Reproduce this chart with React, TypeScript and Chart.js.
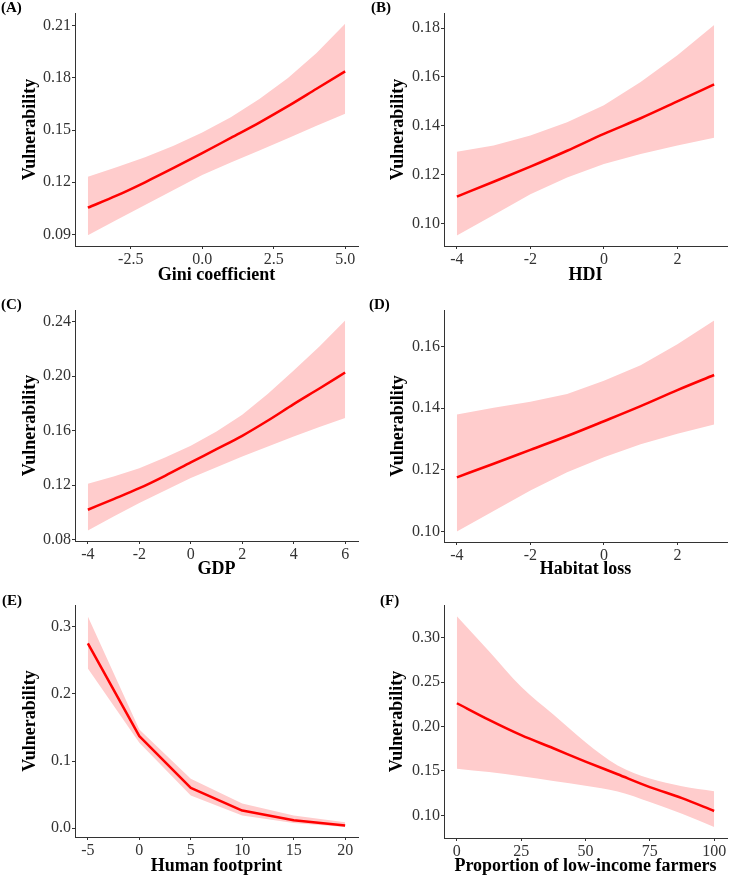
import { useEffect, useRef } from "react";
import { Chart, registerables } from "chart.js";

Chart.register(...registerables);

// (A) Gini coefficient
const giniX = [-4, -3, -2, -1, 0, 1, 2, 3, 4, 5];
const giniFit = [0.1054, 0.1123, 0.12, 0.1282, 0.1367, 0.1455, 0.1543, 0.1637, 0.1737, 0.1837];
const giniUpper = [0.1232, 0.1286, 0.1344, 0.1409, 0.1486, 0.1574, 0.1678, 0.1799, 0.1943, 0.211];
const giniLower = [0.0896, 0.0983, 0.1069, 0.1155, 0.1242, 0.1313, 0.1382, 0.1453, 0.1524, 0.1593];
const giniXTicks = [-2.5, 0, 2.5, 5];
const giniYTicks = [0.09, 0.12, 0.15, 0.18, 0.21];

// (B) HDI
const hdiX = [-4, -3, -2, -1, 0, 1, 2, 3];
const hdiFit = [0.111, 0.1171, 0.1233, 0.1298, 0.1367, 0.1431, 0.15, 0.157];
const hdiUpper = [0.1294, 0.1319, 0.136, 0.1415, 0.1484, 0.1579, 0.1689, 0.1813];
const hdiLower = [0.0951, 0.1035, 0.112, 0.1188, 0.1244, 0.1285, 0.1319, 0.1351];
const hdiXTicks = [-4, -2, 0, 2];
const hdiYTicks = [0.1, 0.12, 0.14, 0.16, 0.18];

// (C) GDP
const gdpX = [-4, -3, -2, -1, 0, 1, 2, 3, 4, 5, 6];
const gdpFit = [0.102, 0.1098, 0.1178, 0.1269, 0.1367, 0.1464, 0.1562, 0.1674, 0.1794, 0.1909, 0.2026];
const gdpUpper = [0.121, 0.1264, 0.1325, 0.1403, 0.1489, 0.1594, 0.1716, 0.187, 0.2041, 0.2217, 0.2407];
const gdpLower = [0.0868, 0.0971, 0.1069, 0.1161, 0.1252, 0.1332, 0.1411, 0.1484, 0.1557, 0.1626, 0.1692];
const gdpXTicks = [-4, -2, 0, 2, 4, 6];
const gdpYTicks = [0.08, 0.12, 0.16, 0.2, 0.24];

// (D) Habitat loss
const habitatX = [-4, -3, -2, -1, 0, 1, 2, 3];
const habitatFit = [0.1176, 0.122, 0.1265, 0.131, 0.1358, 0.1407, 0.1459, 0.1508];
const habitatUpper = [0.138, 0.1402, 0.1421, 0.1446, 0.1489, 0.154, 0.1608, 0.1685];
const habitatLower = [0.1, 0.1067, 0.1133, 0.1192, 0.1241, 0.1283, 0.1317, 0.1347];
const habitatXTicks = [-4, -2, 0, 2];
const habitatYTicks = [0.1, 0.12, 0.14, 0.16];

// (E) Human footprint
const footprintX = [-5, 0, 5, 10, 15, 20];
const footprintFit = [0.275, 0.137, 0.06, 0.0263, 0.0119, 0.004];
const footprintUpper = [0.315, 0.147, 0.0735, 0.0368, 0.0189, 0.0089];
const footprintLower = [0.2374, 0.1272, 0.0487, 0.0189, 0.008, 0.002];
const footprintXTicks = [-5, 0, 5, 10, 15, 20];
const footprintYTicks = [0, 0.1, 0.2, 0.3];

// (F) Proportion of low-income farmers
const farmersX = [0, 12.5, 25, 37.5, 50, 62.5, 75, 87.5, 100];
const farmersFit = [0.2263, 0.2075, 0.1903, 0.1756, 0.1606, 0.1463, 0.1319, 0.1194, 0.1049];
const farmersUpper = [0.3244, 0.285, 0.2448, 0.2135, 0.1824, 0.1561, 0.1414, 0.1327, 0.1271];
const farmersLower = [0.1526, 0.1488, 0.144, 0.1387, 0.1333, 0.1268, 0.115, 0.1019, 0.0868];
const farmersXTicks = [0, 25, 50, 75, 100];
const farmersYTicks = [0.1, 0.15, 0.2, 0.25, 0.3];

const SERIF = '"Liberation Serif", "Times New Roman", Times, serif';
const LINE_RED = "#FF0000";
const BAND_PINK = "#FFCCCC";
const AXIS_GREY = "#333333";

type PanelSpec = {
  tag: string;
  xTitle: string;
  xs: number[];
  fit: number[];
  upper: number[];
  lower: number[];
  xTicks: number[];
  yTicks: number[];
  xDigits: number;
  yDigits: number;
  xRange: [number, number];
  yRange: [number, number];
  smoothFit: boolean;
  smoothBand: boolean;
  // canvas box on the page
  box: { left: number; top: number; width: number; height: number };
  // plot area inside the canvas
  area: { left: number; top: number; right: number; bottom: number };
  tagPos: [number, number];
  yTitleX: number;
};

const panels: PanelSpec[] = [
  {
    tag: "(A)", xTitle: "Gini coefficient",
    xs: giniX, fit: giniFit, upper: giniUpper, lower: giniLower,
    xTicks: giniXTicks, yTicks: giniYTicks, xDigits: 1, yDigits: 2,
    xRange: [-4.45, 5.45], yRange: [0.0834, 0.2172],
    smoothFit: true, smoothBand: false,
    box: { left: 0, top: 0, width: 364, height: 290 },
    area: { left: 75, top: 13, right: 358, bottom: 246 },
    tagPos: [1, 8.5], yTitleX: 30,
  },
  {
    tag: "(B)", xTitle: "HDI",
    xs: hdiX, fit: hdiFit, upper: hdiUpper, lower: hdiLower,
    xTicks: hdiXTicks, yTicks: hdiYTicks, xDigits: 0, yDigits: 2,
    xRange: [-4.35, 3.35], yRange: [0.0908, 0.1862],
    smoothFit: true, smoothBand: false,
    box: { left: 364, top: 0, width: 365, height: 290 },
    area: { left: 80, top: 13, right: 363, bottom: 246 },
    tagPos: [7, 8.5], yTitleX: 34,
  },
  {
    tag: "(C)", xTitle: "GDP",
    xs: gdpX, fit: gdpFit, upper: gdpUpper, lower: gdpLower,
    xTicks: gdpXTicks, yTicks: gdpYTicks, xDigits: 0, yDigits: 2,
    xRange: [-4.5, 6.5], yRange: [0.0791, 0.2484],
    smoothFit: true, smoothBand: false,
    box: { left: 0, top: 290, width: 364, height: 290 },
    area: { left: 75, top: 20, right: 358, bottom: 251 },
    tagPos: [1, 15], yTitleX: 30,
  },
  {
    tag: "(D)", xTitle: "Habitat loss",
    xs: habitatX, fit: habitatFit, upper: habitatUpper, lower: habitatLower,
    xTicks: habitatXTicks, yTicks: habitatYTicks, xDigits: 0, yDigits: 2,
    xRange: [-4.35, 3.35], yRange: [0.0966, 0.1719],
    smoothFit: true, smoothBand: false,
    box: { left: 364, top: 290, width: 365, height: 290 },
    area: { left: 80, top: 20, right: 363, bottom: 252 },
    tagPos: [5, 15.5], yTitleX: 34,
  },
  {
    tag: "(E)", xTitle: "Human footprint",
    xs: footprintX, fit: footprintFit, upper: footprintUpper, lower: footprintLower,
    xTicks: footprintXTicks, yTicks: footprintYTicks, xDigits: 0, yDigits: 1,
    xRange: [-6.25, 21.25], yRange: [-0.013, 0.332],
    smoothFit: false, smoothBand: false,
    box: { left: 0, top: 580, width: 364, height: 297 },
    area: { left: 75, top: 25, right: 358, bottom: 257 },
    tagPos: [2, 21], yTitleX: 30,
  },
  {
    tag: "(F)", xTitle: "Proportion of low-income farmers",
    xs: farmersX, fit: farmersFit, upper: farmersUpper, lower: farmersLower,
    xTicks: farmersXTicks, yTicks: farmersYTicks, xDigits: 0, yDigits: 2,
    xRange: [-5, 105], yRange: [0.0745, 0.337],
    smoothFit: true, smoothBand: true,
    box: { left: 364, top: 580, width: 365, height: 297 },
    area: { left: 80, top: 25, right: 363, bottom: 258 },
    tagPos: [16, 21], yTitleX: 33,
  },
];

const TICK_SIZE = 16;
const TITLE_SIZE = 18;
const TITLE_LINE = 1.2;
const TITLE_GAP = 29; // distance from x axis line to the x title centre

function Panel({ spec }: { spec: PanelSpec }) {
  const ref = useRef<HTMLCanvasElement | null>(null);

  useEffect(() => {
    const canvas = ref.current;
    if (!canvas) return;
    const { box, area } = spec;
    const yW = area.left;
    const xH = box.height - area.bottom;
    const half = (TITLE_SIZE * TITLE_LINE) / 2;
    const yTitlePad = Math.max(0, spec.yTitleX - half);
    const xTitlePad = Math.max(0, xH - TITLE_GAP - half);

    const pts = (ys: number[]) => spec.xs.map((x, i) => ({ x, y: ys[i] }));
    const fitMode = spec.smoothFit ? "monotone" : "default";
    const bandMode = spec.smoothBand ? "monotone" : "default";

    const tagPlugin = {
      id: "panelTag",
      afterDraw(chart: any) {
        const ctx = chart.ctx;
        ctx.save();
        ctx.font = `bold 15px ${SERIF}`;
        ctx.fillStyle = "#000";
        ctx.textAlign = "left";
        ctx.textBaseline = "middle";
        ctx.fillText(spec.tag, spec.tagPos[0], spec.tagPos[1]);
        ctx.restore();
      },
    };

    const zeroPad = (s: any) => {
      s.paddingLeft = 0;
      s.paddingRight = 0;
      s.paddingTop = 0;
      s.paddingBottom = 0;
    };

    const axisCommon = {
      grid: {
        drawOnChartArea: false,
        drawTicks: true,
        tickLength: 3,
        tickColor: AXIS_GREY,
        tickWidth: 1,
      },
      border: { display: true, color: AXIS_GREY, width: 1 },
    };

    const chart = new Chart(canvas, {
      type: "line",
      data: {
        datasets: [
          {
            data: pts(spec.fit),
            borderColor: LINE_RED,
            borderWidth: 2.5,
            pointRadius: 0,
            fill: false,
            cubicInterpolationMode: fitMode,
            borderCapStyle: "butt",
            borderJoinStyle: "round",
          },
          {
            data: pts(spec.upper),
            borderColor: "rgba(0,0,0,0)",
            borderWidth: 0,
            pointRadius: 0,
            backgroundColor: BAND_PINK,
            fill: "+1",
            cubicInterpolationMode: bandMode,
          },
          {
            data: pts(spec.lower),
            borderColor: "rgba(0,0,0,0)",
            borderWidth: 0,
            pointRadius: 0,
            fill: false,
            cubicInterpolationMode: bandMode,
          },
        ],
      },
      options: {
        animation: false,
        responsive: false,
        maintainAspectRatio: false,
        events: [],
        layout: {
          padding: { left: 0, bottom: 0, top: area.top, right: box.width - area.right },
        },
        plugins: {
          legend: { display: false },
          tooltip: { enabled: false },
        },
        scales: {
          x: {
            type: "linear",
            min: spec.xRange[0],
            max: spec.xRange[1],
            afterBuildTicks: (s: any) => {
              s.ticks = spec.xTicks.map((v) => ({ value: v }));
            },
            afterFit: (s: any) => {
              s.height = xH;
              zeroPad(s);
            },
            ticks: {
              autoSkip: false,
              maxRotation: 0,
              minRotation: 0,
              padding: 1,
              color: AXIS_GREY,
              font: { family: SERIF, size: TICK_SIZE },
              callback: (v: any) => Number(v).toFixed(spec.xDigits),
            },
            ...axisCommon,
            title: {
              display: true,
              text: spec.xTitle,
              color: "#000",
              font: { family: SERIF, size: TITLE_SIZE, weight: "bold", lineHeight: TITLE_LINE },
              padding: { top: 0, bottom: xTitlePad },
            },
          },
          y: {
            type: "linear",
            min: spec.yRange[0],
            max: spec.yRange[1],
            afterBuildTicks: (s: any) => {
              s.ticks = spec.yTicks.map((v) => ({ value: v }));
            },
            afterFit: (s: any) => {
              s.width = yW;
              zeroPad(s);
            },
            ticks: {
              autoSkip: false,
              padding: 1,
              color: AXIS_GREY,
              font: { family: SERIF, size: TICK_SIZE },
              callback: (v: any) => Number(v).toFixed(spec.yDigits),
            },
            ...axisCommon,
            title: {
              display: true,
              text: "Vulnerability",
              color: "#000",
              font: { family: SERIF, size: TITLE_SIZE, weight: "bold", lineHeight: TITLE_LINE },
              padding: { top: yTitlePad, bottom: 0 },
            },
          },
        },
      },
      plugins: [tagPlugin],
    } as any);

    return () => chart.destroy();
  }, [spec]);

  const { box } = spec;
  return (
    <canvas
      ref={ref}
      width={box.width}
      height={box.height}
      style={{
        position: "absolute",
        left: box.left,
        top: box.top,
        width: box.width,
        height: box.height,
      }}
    />
  );
}

export default function App() {
  return (
    <div
      style={{
        position: "absolute",
        left: 0,
        top: 0,
        width: 729,
        height: 877,
        background: "#ffffff",
        overflow: "hidden",
      }}
    >
      {panels.map((p) => (
        <Panel key={p.tag} spec={p} />
      ))}
    </div>
  );
}
